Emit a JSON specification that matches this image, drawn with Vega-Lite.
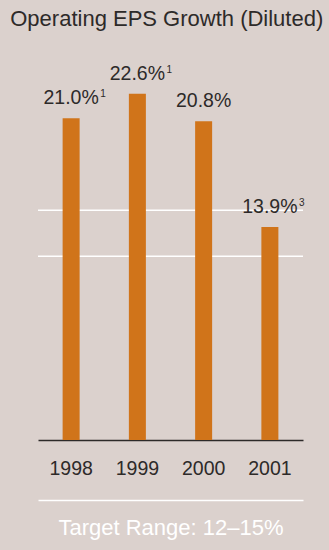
{
  "$schema": "https://vega.github.io/schema/vega-lite/v6.json",
  "width": 265,
  "height": 383,
  "autosize": {"type": "none"},
  "padding": {"left": 38, "top": 57, "right": 26, "bottom": 110},
  "background": "#dbd1cd",
  "config": {"view": {"stroke": null}, "font": "Liberation Sans"},
  "title": {
    "text": "Operating EPS Growth (Diluted)",
    "anchor": "start",
    "dx": -27,
    "offset": 9,
    "baseline": "alphabetic",
    "fontSize": 22,
    "fontWeight": "normal",
    "color": "#2d2a29"
  },
  "data": {
    "values": [
      {"year": "1998", "value": 21.0, "label": "21.0%", "note": "1"},
      {"year": "1999", "value": 22.6, "label": "22.6%", "note": "1"},
      {"year": "2000", "value": 20.8, "label": "20.8%", "note": ""},
      {"year": "2001", "value": 13.9, "label": "13.9%", "note": "3"}
    ]
  },
  "layer": [
    {
      "data": {"values": [{"target": 12}, {"target": 15}]},
      "mark": {"type": "rule", "color": "#ffffff", "strokeWidth": 1.5},
      "encoding": {
        "y": {"field": "target", "type": "quantitative", "scale": {"domain": [0, 25]}, "axis": null}
      }
    },
    {
      "mark": {"type": "bar", "color": "#d0741a", "width": 17},
      "encoding": {
        "x": {
          "field": "year",
          "type": "ordinal",
          "scale": {"paddingInner": 0, "paddingOuter": 0},
          "axis": {
            "title": null,
            "labelAngle": 0,
            "domainColor": "#2d2a29",
            "domainWidth": 1.5,
            "ticks": false,
            "tickSize": 0,
            "labelFontSize": 19.5,
            "labelColor": "#2d2a29",
            "labelBaseline": "alphabetic",
            "labelPadding": 34
          }
        },
        "y": {"field": "value", "type": "quantitative", "scale": {"domain": [0, 25]}, "axis": null}
      }
    },
    {
      "mark": {"type": "text", "dy": -14, "dx": 0, "baseline": "alphabetic", "fontSize": 19.5, "color": "#2d2a29"},
      "encoding": {
        "x": {
          "field": "year",
          "type": "ordinal",
          "axis": {
            "orient": "bottom",
            "offset": 60,
            "domainColor": "#ffffff",
            "domainWidth": 1.5,
            "labels": false,
            "ticks": false,
            "tickSize": 0,
            "title": "Target Range: 12–15%",
            "titleColor": "#ffffff",
            "titleFontSize": 22,
            "titleFontWeight": "normal",
            "titleBaseline": "alphabetic",
            "titlePadding": 34
          }
        },
        "y": {"field": "value", "type": "quantitative", "scale": {"domain": [0, 25]}, "axis": null},
        "text": {"field": "label"}
      }
    },
    {
      "mark": {"type": "text", "dy": -21, "dx": 29, "align": "left", "baseline": "alphabetic", "fontSize": 10, "color": "#2d2a29"},
      "encoding": {
        "x": {"field": "year", "type": "ordinal", "axis": null},
        "y": {"field": "value", "type": "quantitative", "scale": {"domain": [0, 25]}, "axis": null},
        "text": {"field": "note"}
      }
    }
  ],
  "resolve": {"axis": {"x": "independent"}}
}
